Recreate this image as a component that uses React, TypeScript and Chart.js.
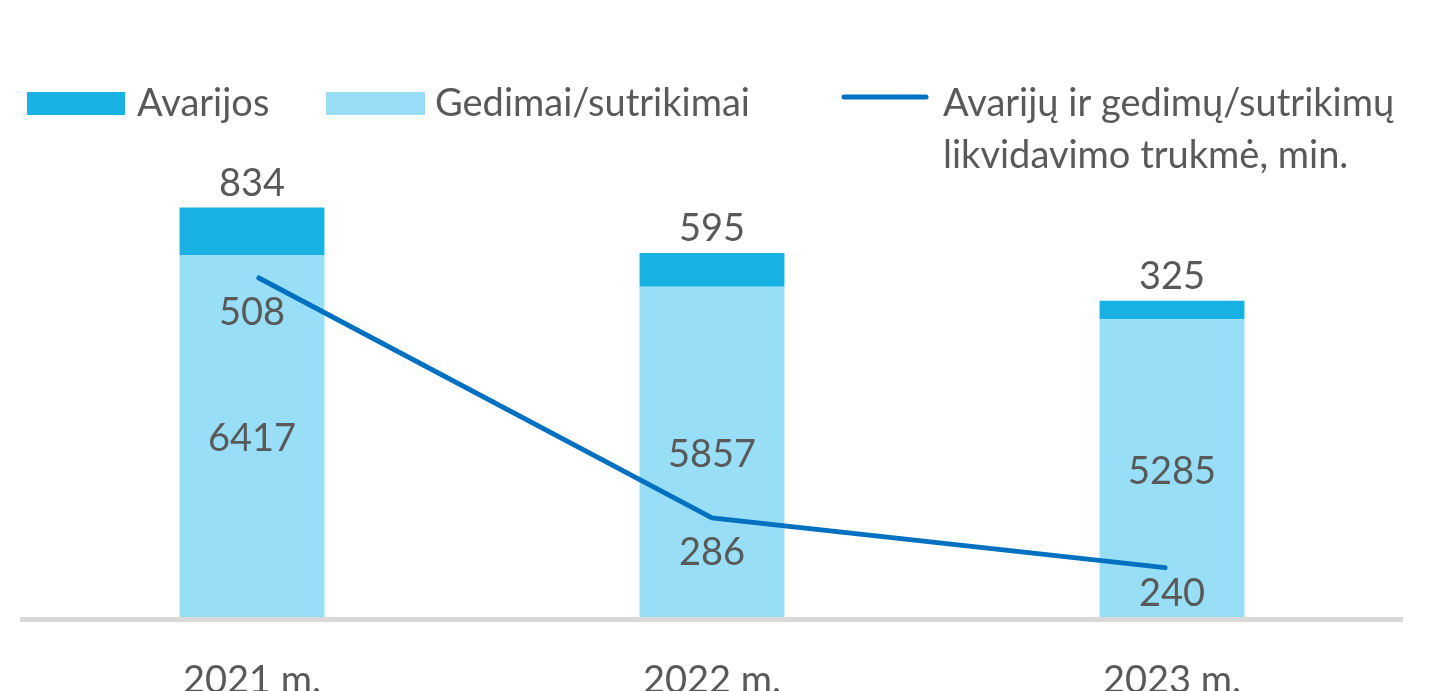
import React, { useEffect, useRef } from "react";
import { Chart, registerables } from "chart.js";

Chart.register(...registerables);

const categories = ["2021 m.", "2022 m.", "2023 m."];
const avarijos = [834, 595, 325];
const gedimai = [6417, 5857, 5285];
const trukme = [508, 286, 240];
const legendLabels = ["Avarijos", "Gedimai/sutrikimai", "Avarijų ir gedimų/sutrikimų", "likvidavimo trukmė, min."];

const DARK = "#17B2E3";
const LIGHT = "#97DEF6";
const LINE = "#0070C0";
const TEXT = "#595959";
const FONT = "Lato, 'Open Sans', sans-serif";
const FS = 38;

const labelsPlugin = {
  id: "customLabels",
  afterDraw(chart: any) {
    const ctx = chart.ctx;
    const x = chart.scales.x;
    const y = chart.scales.y;
    const y1 = chart.scales.y1;
    const bottom = chart.chartArea.bottom;
    ctx.save();
    ctx.fillStyle = TEXT;
    ctx.font = `${FS}px ${FONT}`;
    ctx.textAlign = "center";
    ctx.textBaseline = "middle";
    categories.forEach((_, i) => {
      const cx = x.getPixelForValue(i);
      const y0 = y.getPixelForValue(0);
      const yg = y.getPixelForValue(gedimai[i]);
      const yt = y.getPixelForValue(gedimai[i] + avarijos[i]);
      ctx.fillText(String(gedimai[i]), cx, (y0 + yg) / 2 + 2);
      ctx.fillText(String(avarijos[i]), cx, yt - 24);
      const yl = y1.getPixelForValue(trukme[i]);
      ctx.fillText(String(trukme[i]), cx, Math.min(yl + 35, bottom - 26));
    });
    // legend
    ctx.textAlign = "left";
    ctx.fillStyle = DARK;
    ctx.fillRect(27, 92, 98, 23);
    ctx.fillStyle = LIGHT;
    ctx.fillRect(326, 92, 99, 23);
    ctx.strokeStyle = LINE;
    ctx.lineWidth = 5;
    ctx.lineCap = "round";
    ctx.beginPath();
    ctx.moveTo(844, 97);
    ctx.lineTo(926, 97);
    ctx.stroke();
    ctx.fillStyle = TEXT;
    ctx.fillText(legendLabels[0], 137, 104);
    ctx.fillText(legendLabels[1], 435, 104);
    ctx.fillText(legendLabels[2], 943, 104);
    ctx.fillText(legendLabels[3], 943, 156);
    ctx.restore();
  },
};

export default function App() {
  const ref = useRef<HTMLCanvasElement>(null);
  useEffect(() => {
    const canvas = ref.current!;
    const chart = new Chart(canvas, {
      type: "bar",
      data: {
        labels: categories,
        datasets: [
          {
            type: "line",
            label: legendLabels[2],
            data: trukme.map((v, i) => ({ x: i, y: v })),
            borderColor: LINE,
            borderWidth: 5,
            pointRadius: 0,
            borderCapStyle: "round",
            xAxisID: "x2",
            yAxisID: "y1",
            order: 0,
          } as any,
          {
            label: legendLabels[1],
            data: gedimai,
            backgroundColor: LIGHT,
            xAxisID: "x",
            yAxisID: "y",
            order: 1,
          },
          {
            label: legendLabels[0],
            data: avarijos,
            backgroundColor: DARK,
            xAxisID: "x",
            yAxisID: "y",
            order: 1,
          },
        ],
      },
      options: {
        responsive: false,
        animation: false,
        layout: { padding: { left: 22, right: 35, top: 165, bottom: 0 } },
        datasets: { bar: { barPercentage: 0.315, categoryPercentage: 1, grouped: false } },
        plugins: { legend: { display: false }, tooltip: { enabled: false }, title: { display: false } },
        scales: {
          x: {
            type: "category",
            stacked: true,
            offset: true,
            grid: { display: false },
            border: { display: true, color: "#D9D9D9", width: 5, z: 1 },
            ticks: { color: TEXT, font: { family: FONT, size: FS }, padding: 30 },
            afterFit: (s: any) => {
              s.height = 71.5;
            },
          },
          x2: { type: "linear", display: false, offset: false, min: -0.523, max: 2.523 },
          y: { stacked: true, display: false, min: 0, max: 8000 },
          y1: { display: false, min: 192, max: 612.5 },
        },
      },
      plugins: [labelsPlugin],
    });
    return () => chart.destroy();
  }, []);
  return (
    <div style={{ position: "absolute", left: 0, top: 0, width: 1437, height: 691, background: "#fff" }}>
      <canvas ref={ref} width={1437} height={691} />
    </div>
  );
}
